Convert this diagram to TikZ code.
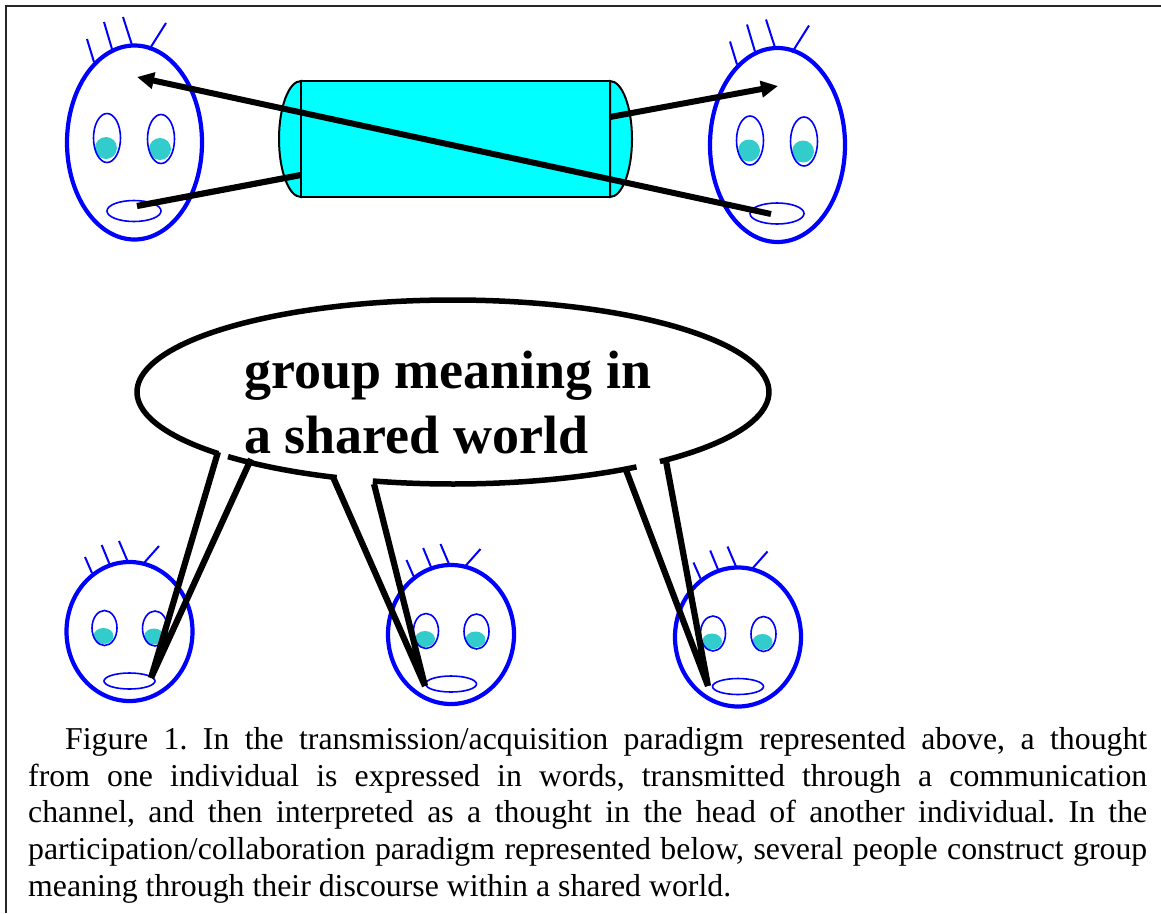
\documentclass[tikz,border=0pt]{standalone}
\usepackage{fontspec}
\setmainfont{Liberation Serif}
\usetikzlibrary{shapes.geometric,arrows.meta,calc}
\definecolor{headblue}{RGB}{0,0,255}
\definecolor{pupil}{RGB}{51,204,204}
\definecolor{tube}{RGB}{0,255,255}
\tikzset{
 x=1pt,y=1pt,
 headring/.style={ellipse,draw=headblue,line width=4.2pt,inner sep=0pt},
 eye/.style={draw=headblue,line width=1.6pt},
 hair/.style={draw=headblue,line width=2pt},
 speech/.style={line width=5.5pt},
 talk/.style={line width=6.2pt},
 arrowtalk/.style={line width=6pt,-{Triangle[length=17pt,width=16pt]}},
 tubeline/.style={draw=black,line width=2pt},
 bubbletext/.style={anchor=base west,font=\fontsize{54}{64}\selectfont\bfseries,inner sep=0pt},
 caption/.style={anchor=north west,inner sep=0pt,text width=1119pt,align=justify,font=\fontsize{31.8}{36.8}\selectfont},
}
\newcommand{\bigface}[3]{
 \begin{scope}[shift={(#2,-#3)}]
  \draw[hair] (87,-39)--(94,-62) (104,-22)--(112,-49) (123,-17)--(132,-45) (166,-23)--(149,-50);
  \node[headring,minimum width=135pt,minimum height=194pt] (#1head) at (134.5,-142.5) {};
  \fill[pupil] (106,-148) circle (11);
  \fill[pupil] (160,-149) circle (11);
  \draw[eye] (107,-138) ellipse (13.5 and 24.5);
  \draw[eye] (161,-139) ellipse (13.5 and 24.5);
  \draw[eye] (134,-211) ellipse (27 and 10.5);
 \end{scope}}
\newcommand{\smallface}[3]{
 \begin{scope}[shift={(#2,-#3)}]
  \draw[hair] (85,-557)--(92,-573) (101.7,-545)--(109.5,-564) (119,-541)--(127.5,-561) (159,-546)--(143,-564);
  \node[headring,minimum width=126pt,minimum height=139pt] (#1head) at (129.5,-631.5) {};
  \fill[pupil] (103.5,-636) ellipse (10 and 8);
  \fill[pupil] (154,-636.5) ellipse (10 and 8);
  \draw[eye] (104.5,-628) ellipse (12.5 and 17.5);
  \draw[eye] (155,-628.5) ellipse (12.5 and 17.5);
  \draw[eye] (129.5,-681) ellipse (25.5 and 8);
 \end{scope}}
\begin{document}
\begin{tikzpicture}
\useasboundingbox (0,0) rectangle (1161,-913);
\fill[white] (0,0) rectangle (1161,-913);
\draw[line width=2.4pt,color=black!85] (6,-913)--(6,-6)--(1161,-6);
\bigface{a}{0}{0}
\bigface{b}{643}{2.5}
\smallface{c}{0}{0}
\smallface{d}{321.5}{3}
\smallface{e}{608.5}{5.5}
% channel
\coordinate (tl) at (301,-81); \coordinate (bl) at (301,-197);
\coordinate (tr) at (610,-81); \coordinate (br) at (610,-197);
\filldraw[fill=tube,tubeline] (tl) arc[start angle=90,end angle=270,x radius=22,y radius=58] -- cycle;
\filldraw[fill=tube,tubeline] (tr) arc[start angle=90,end angle=-90,x radius=22,y radius=58] -- cycle;
\filldraw[fill=tube,tubeline] (tl) rectangle (br);
% transmission connectors
\coordinate (m1) at (137,-206); \coordinate (c1) at (301,-175);
\coordinate (c2) at (610,-117); \coordinate (t2) at (778,-86);
\coordinate (m2) at (771,-214); \coordinate (t1) at (137,-77);
\draw[talk] (m1)--(c1);
\draw[arrowtalk] (c2)--(t2);
\draw[arrowtalk] (m2)--(t1);
% speech bubble
\coordinate (bub) at (453,-392);
\draw[speech] ($(bub)+(310.9:316 and 92)$) arc[start angle=310.9,end angle=582,x radius=316,y radius=92];
\draw[speech] ($(bub)+(224.6:316 and 92)$) arc[start angle=224.6,end angle=248.4,x radius=316,y radius=92];
\draw[speech] ($(bub)+(255.3:316 and 92)$) arc[start angle=255.3,end angle=305.5,x radius=316,y radius=92];
% tails
\coordinate (c3) at (151,-678); \coordinate (d3) at (425,-686); \coordinate (e3) at (708,-686);
\coordinate (c1a) at (218,-452); \coordinate (c2a) at (251,-459);
\coordinate (d1a) at (333,-477); \coordinate (d2a) at (374,-484);
\coordinate (e1a) at (626,-470); \coordinate (e2a) at (666,-461);
\draw[talk] (c1a)--(c3) (c2a)--(c3);
\draw[talk] (d1a)--(d3) (d2a)--(d3);
\draw[talk] (e1a)--(e3) (e2a)--(e3);
% texts
\node[bubbletext] (b1) at (244,-388) {group meaning in};
\node[bubbletext] (b2) at (244,-453) {a shared world};
\node[caption] (cap) at (28,-727) {\frenchspacing\hyphenpenalty=10000\hbadness=10000\hfuzz=20pt\setlength{\parindent}{37pt}\indent Figure 1. In the transmission/acquisition paradigm represented above, a thought\linebreak from one individual is expressed in words, transmitted through a communication\linebreak channel, and then interpreted as a thought in the head of another individual. In the\linebreak participation/collaboration paradigm represented below, several people construct group\linebreak meaning through their discourse within a shared world.};
\end{tikzpicture}
\end{document}
